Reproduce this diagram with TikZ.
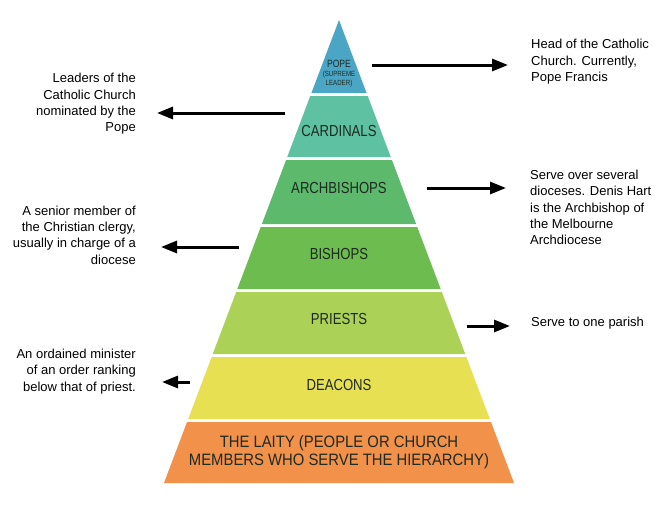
\documentclass[tikz,border=0pt]{standalone}
\usepackage{fontspec}
\setmainfont{Liberation Sans}
\newfontfamily\handfont[FakeStretch=0.82]{Liberation Sans}
\newfontfamily\handwide[FakeStretch=0.9]{Liberation Sans}
\usetikzlibrary{arrows.meta}
\definecolor{cPope}{HTML}{4BA6C6}
\definecolor{cCard}{HTML}{5EC2A2}
\definecolor{cArch}{HTML}{5DBA6C}
\definecolor{cBish}{HTML}{6DBC4F}
\definecolor{cPriest}{HTML}{ABD156}
\definecolor{cDeac}{HTML}{E7E053}
\definecolor{cLaity}{HTML}{F2914A}
\definecolor{ink}{HTML}{1E2A22}
\tikzset{
  bandlabel/.style={font=\handfont\fontsize{16}{17}\selectfont, text=ink, inner sep=0pt},
  desc/.style={font=\fontsize{13}{16.4}\selectfont, inner sep=0pt},
  descL/.style={desc, align=right, anchor=east},
  descR/.style={desc, align=left, anchor=west},
  arr/.style={line width=3pt, -{Triangle[length=16pt,width=12pt]}}
}
\newcommand{\pyrband}[3]{%
  \fill[#3] ({339-0.378*(#1-20)},#1) -- ({339+0.378*(#1-20)},#1) --
            ({339+0.378*(#2-20)},#2) -- ({339-0.378*(#2-20)},#2) -- cycle;}
\begin{document}
\begin{tikzpicture}[x=1pt,y=-1pt]
\useasboundingbox (0,0) rectangle (665,507);
\fill[white] (0,0) rectangle (665,507);
% pyramid bands
\fill[cPope] (339,20) -- ({339+0.378*73},93) -- ({339-0.378*73},93) -- cycle;
\pyrband{96}{157}{cCard}
\pyrband{160}{224}{cArch}
\pyrband{227}{289}{cBish}
\pyrband{292}{354}{cPriest}
\pyrband{357}{419}{cDeac}
\pyrband{422}{483}{cLaity}
% band labels
\node[bandlabel, font=\handfont\fontsize{10.5}{10.5}\selectfont] (lpope) at (339,64) {POPE};
\node[bandlabel, font=\handfont\fontsize{7.5}{9}\selectfont, align=center] (lsup) at (339,79) {(SUPREME\\LEADER)};
\node[bandlabel] (lcard) at (339,131) {CARDINALS};
\node[bandlabel] (larch) at (339,188) {ARCHBISHOPS};
\node[bandlabel] (lbish) at (339,254) {BISHOPS};
\node[bandlabel] (lpriest) at (339,319) {PRIESTS};
\node[bandlabel] (ldeac) at (339,385) {DEACONS};
\node[bandlabel, align=center, font=\handwide\fontsize{16.5}{17.5}\selectfont] (llaity) at (339,452) {THE LAITY (PEOPLE OR CHURCH\\MEMBERS WHO SERVE THE HIERARCHY)};
% descriptions
\node[descR] (tpope) at (531,62) {Head of the Catholic\\Church. Currently,\\Pope Francis};
\node[descL] (tcard) at (136,104) {Leaders of the\\Catholic Church\\nominated by the\\Pope};
\node[descR] (tarch) at (530,207.5) {Serve over several\\dioceses. Denis Hart\\is the Archbishop of\\the Melbourne\\Archdiocese};
\node[descL] (tbish) at (136,235) {A senior member of\\the Christian clergy,\\usually in charge of a\\diocese};
\node[descR] (tpriest) at (531,323) {Serve to one parish};
\node[descL] (tdeac) at (136,371.5) {An ordained minister\\of an order ranking\\below that of priest.};
% arrow end points
\coordinate (s1) at (372,65);  \coordinate (e1) at (508,65);
\coordinate (s2) at (285,113); \coordinate (e2) at (157,113);
\coordinate (s3) at (427,188); \coordinate (e3) at (506,188);
\coordinate (s4) at (239,247); \coordinate (e4) at (161,247);
\coordinate (s5) at (467,326); \coordinate (e5) at (510,326);
\coordinate (s6) at (190,382); \coordinate (e6) at (162,382);
\draw[arr] (s1) -- (e1);
\draw[arr] (s2) -- (e2);
\draw[arr] (s3) -- (e3);
\draw[arr] (s4) -- (e4);
\draw[arr] (s5) -- (e5);
\draw[arr] (s6) -- (e6);
\end{tikzpicture}
\end{document}
